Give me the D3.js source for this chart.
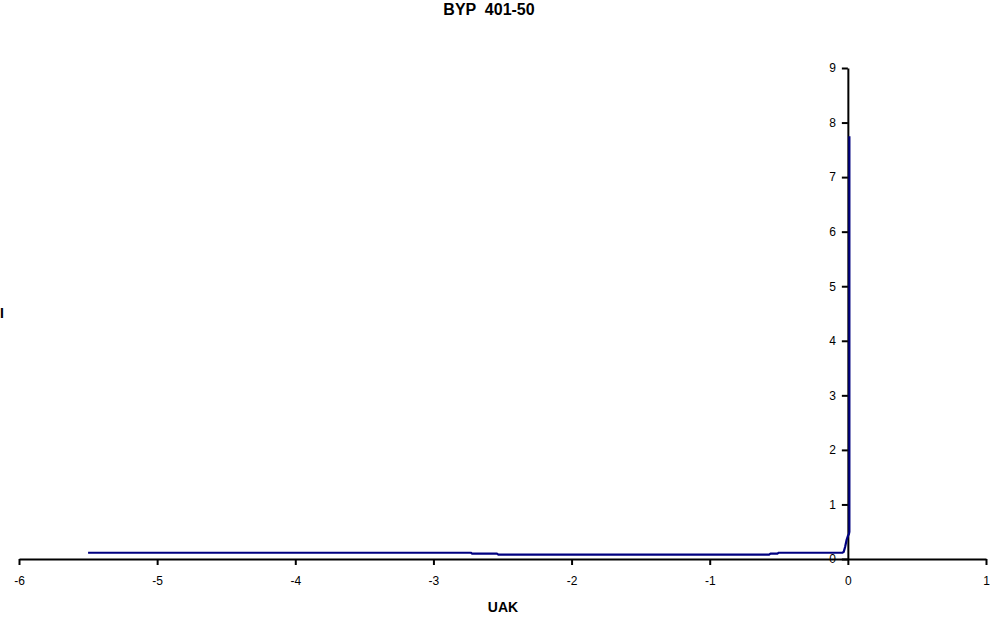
<!DOCTYPE html>
<html><head><meta charset="utf-8">
<script src="https://cdn.jsdelivr.net/npm/d3@7"></script>
<style>body{margin:0;background:#fff;}svg{display:block;font-family:"Liberation Sans",Arial,sans-serif;}</style>
</head><body>
<svg id="c" width="991" height="617"></svg>
<script>
const titleText = "BYP  401-50";
const xLabel = "UAK";
const yLabel = "I";
const xTicks = [-6,-5,-4,-3,-2,-1,0,1];
const yTicks = [0,1,2,3,4,5,6,7,8,9];
const xs = [-5.50,-2.73,-2.72,-2.54,-2.53,-0.57,-0.56,-0.51,-0.50,-0.04,-0.03,-0.02,-0.01,0.0,0.008,0.011,0.011];
const ys = [0.115,0.115,0.097,0.097,0.079,0.079,0.097,0.097,0.115,0.115,0.13,0.22,0.34,0.42,0.46,0.5,7.75];

const svg = d3.select("#c");
const x = d3.scaleLinear().domain([-6,1]).range([19,986]);
const y = d3.scaleLinear().domain([0,9]).range([559,68]);
const fmt = d => String(d);

// x axis
const gx = svg.append("g").attr("transform","translate(0,559)")
  .call(d3.axisBottom(x).tickValues(xTicks).tickFormat(fmt).tickSize(6).tickSizeOuter(0).tickPadding(11));
gx.select(".domain").attr("stroke","#000").attr("stroke-width",2);
gx.selectAll(".tick line").attr("stroke","#000").attr("stroke-width",2);
gx.selectAll("text").attr("font-size",12).attr("fill","#000").attr("font-family","Liberation Sans, Arial, sans-serif");

// y axis
const gy = svg.append("g").attr("transform",`translate(${x(0)},0)`)
  .call(d3.axisLeft(y).tickValues(yTicks).tickFormat(fmt).tickSize(6).tickSizeOuter(0).tickPadding(6));
gy.select(".domain").attr("stroke","#000").attr("stroke-width",2);
gy.selectAll(".tick line").attr("stroke","#000").attr("stroke-width",2);
gy.selectAll("text").attr("font-size",12).attr("fill","#000").attr("font-family","Liberation Sans, Arial, sans-serif");

// line
const pts = xs.map((v,i)=>[v,ys[i]]);
svg.append("path").datum(pts)
  .attr("fill","none").attr("stroke","#000080").attr("stroke-width",2.2)
  .attr("stroke-linejoin","round")
  .attr("d", d3.line().x(d=>x(d[0])).y(d=>y(d[1])));

// titles
svg.append("text").attr("x",489).attr("y",15).attr("text-anchor","middle")
  .attr("font-size",16).attr("font-weight","bold").attr("xml:space","preserve").text(titleText);
svg.append("text").attr("x",503).attr("y",612).attr("text-anchor","middle")
  .attr("font-size",14).attr("font-weight","bold").text(xLabel);
svg.append("text").attr("x",0).attr("y",318)
  .attr("font-size",14).attr("font-weight","bold").text(yLabel);
</script>
</body></html>
